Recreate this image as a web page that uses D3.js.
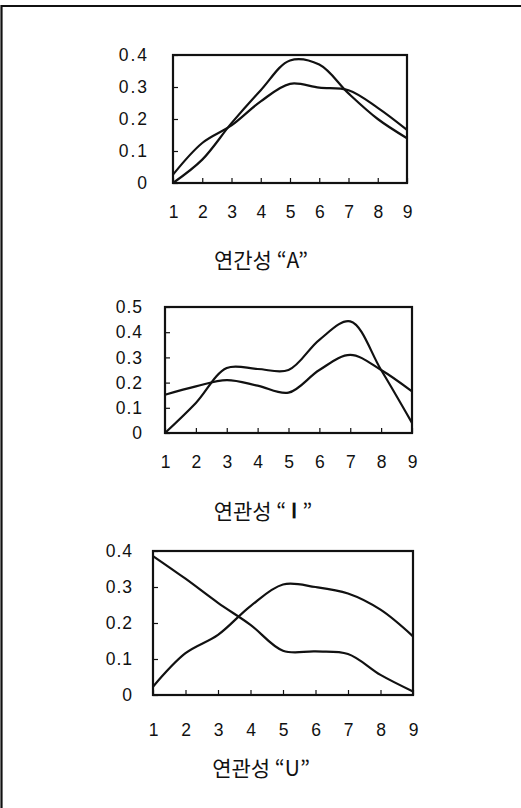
<!DOCTYPE html>
<html><head><meta charset="utf-8">
<script src="https://cdn.jsdelivr.net/npm/d3@7"></script>
<style>
html,body{margin:0;padding:0;background:#fff;}
svg{display:block;}
</style></head>
<body>
<svg id="c" width="521" height="808"></svg>
<script>
// ---- data ----
const xValues = [1, 2, 3, 4, 5, 6, 7, 8, 9];

const titleA = "연간성 “A”";
const yTicksA = [0, 0.1, 0.2, 0.3, 0.4];
const seriesA1 = [0.0, 0.073, 0.187, 0.29, 0.383, 0.37, 0.28, 0.2, 0.14];
const seriesA2 = [0.026, 0.125, 0.18, 0.255, 0.31, 0.298, 0.29, 0.235, 0.166];

const titleI = ["연관성 “", "Ⅰ", "”"];
const yTicksI = [0, 0.1, 0.2, 0.3, 0.4, 0.5];
const seriesI1 = [0.0, 0.119, 0.258, 0.254, 0.25, 0.37, 0.443, 0.25, 0.04];
const seriesI2 = [0.152, 0.185, 0.21, 0.188, 0.16, 0.25, 0.31, 0.25, 0.165];

const titleU = "연관성 “U”";
const yTicksU = [0, 0.1, 0.2, 0.3, 0.4];
const seriesU1 = [0.386, 0.323, 0.256, 0.195, 0.123, 0.121, 0.114, 0.056, 0.01];
const seriesU2 = [0.023, 0.116, 0.167, 0.247, 0.307, 0.30, 0.282, 0.237, 0.163];

// ---- drawing ----
const svg = d3.select("#c");
const numFont = "'Liberation Sans', Arial, sans-serif";
const korFont = "'Noto Sans CJK KR', sans-serif";

// outer frame (top and left edges)
svg.append("path")
  .attr("d", d3.line()([[1.5, 808], [1.5, 6], [521, 6]]))
  .attr("fill", "none").attr("stroke", "#111").attr("stroke-width", 2.2);

function chart(cfg) {
  const g = svg.append("g");
  const x = d3.scaleLinear().domain([1, 9]).range([cfg.left, cfg.right]);
  const y = d3.scaleLinear().domain([0, cfg.ymax]).range([cfg.bottom, cfg.top]);

  const yAxis = d3.axisLeft(y).tickValues(cfg.yTicks)
    .tickSize(-5).tickPadding(cfg.yPad)
    .tickFormat(d => d === 0 ? "0" : d3.format(".1f")(d));
  const ya = g.append("g").attr("transform", `translate(${cfg.left},0)`).call(yAxis);
  ya.select(".domain").remove();
  ya.selectAll("line").attr("stroke", "#111").attr("stroke-width", 1.2);
  ya.selectAll("text").attr("font-family", numFont).attr("font-size", 17.5)
    .attr("fill", "#111").attr("letter-spacing", cfg.ls);

  const xAxis = d3.axisBottom(x).tickValues(xValues)
    .tickSize(-5).tickPadding(cfg.xPad).tickFormat(d3.format("d"));
  const xa = g.append("g").attr("transform", `translate(0,${cfg.bottom})`).call(xAxis);
  xa.select(".domain").remove();
  xa.selectAll("line").attr("stroke", "#111").attr("stroke-width", 1.2);
  xa.selectAll("text").attr("font-family", numFont).attr("font-size", 17.5).attr("fill", "#111");

  g.append("rect")
    .attr("x", cfg.left).attr("y", cfg.top)
    .attr("width", cfg.right - cfg.left).attr("height", cfg.bottom - cfg.top)
    .attr("fill", "none").attr("stroke", "#111").attr("stroke-width", 2.2);

  const line = d3.line().x((d, i) => x(xValues[i])).y(d => y(d))
    .curve(d3.curveCatmullRom.alpha(0.5));
  cfg.series.forEach(s => {
    g.append("path").attr("d", line(s))
      .attr("fill", "none").attr("stroke", "#111").attr("stroke-width", 2.2)
      .attr("stroke-linejoin", "round");
  });

  const t = g.append("text").attr("x", cfg.titleX).attr("y", cfg.titleY)
    .attr("text-anchor", "middle").attr("font-family", korFont).attr("font-weight", 400)
    .attr("font-size", 21).attr("fill", "#111").attr("dominant-baseline", "middle");
  if (Array.isArray(cfg.title)) {
    t.append("tspan").text(cfg.title[0]);
    t.append("tspan").attr("font-family", "'Liberation Serif', serif").attr("font-weight", "bold")
      .attr("dx", 5).text(cfg.title[1]);
    t.append("tspan").attr("dx", 5).text(cfg.title[2]);
  } else {
    t.text(cfg.title);
  }
}

chart({left: 173, right: 407, top: 55, bottom: 183, ymax: 0.4, yTicks: yTicksA,
  series: [seriesA1, seriesA2], yPad: 24, xPad: 23, ls: 2,
  title: titleA, titleX: 261, titleY: 262});
chart({left: 165, right: 412, top: 307, bottom: 433, ymax: 0.5, yTicks: yTicksI,
  series: [seriesI1, seriesI2], yPad: 22, xPad: 23, ls: 1,
  title: titleI, titleX: 263, titleY: 513});
chart({left: 153, right: 413, top: 551, bottom: 695, ymax: 0.4, yTicks: yTicksU,
  series: [seriesU1, seriesU2], yPad: 20, xPad: 29, ls: 1,
  title: titleU, titleX: 261, titleY: 770});
</script>
</body></html>
